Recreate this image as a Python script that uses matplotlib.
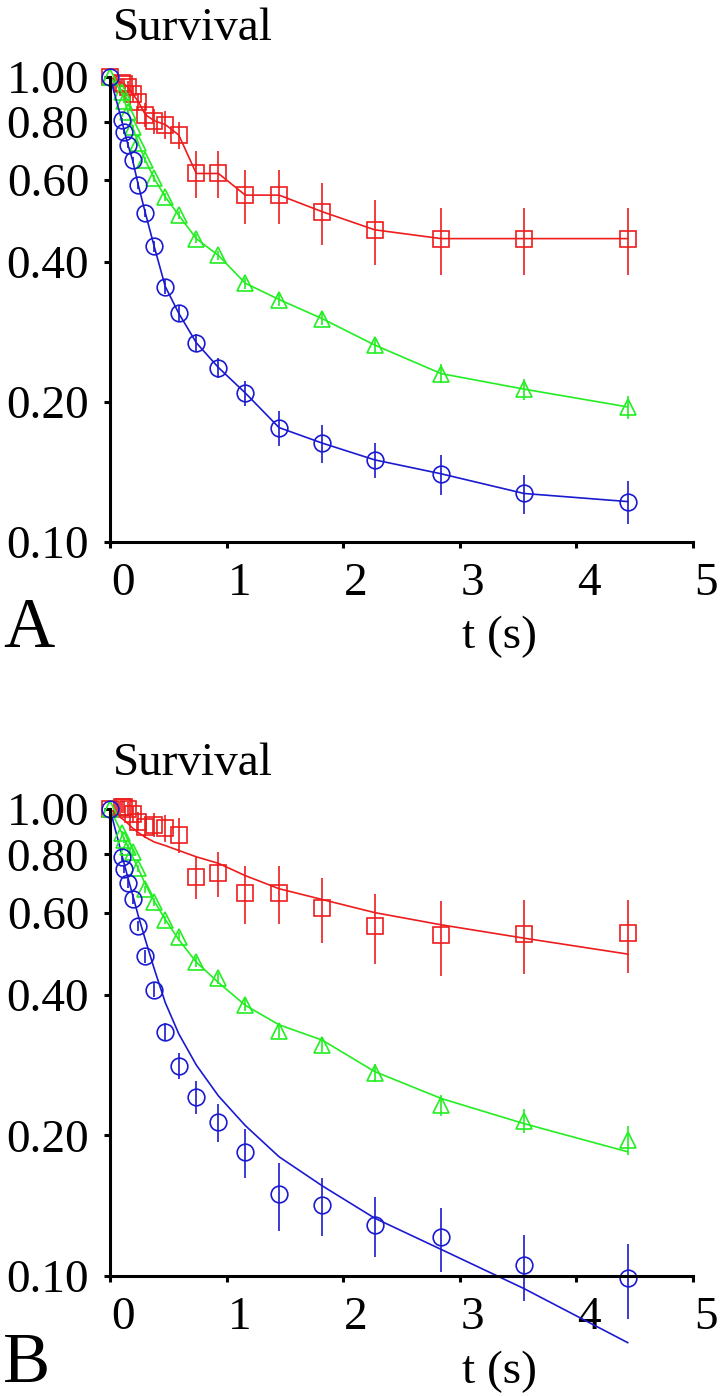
import matplotlib
matplotlib.use("Agg")
import matplotlib.pyplot as plt
import matplotlib.transforms as mtransforms

# time points (s), shared by all series
t = [0, 0.10, 0.124, 0.155, 0.194, 0.243, 0.303, 0.379, 0.474, 0.59,
     0.74, 0.93, 1.16, 1.45, 1.82, 2.27, 2.84, 3.55, 4.44]

# --- panel A: data, joined point to point ---
red_a = [1.0, 0.97, 0.965, 0.95, 0.92, 0.885, 0.83, 0.805, 0.79, 0.75,
         0.62, 0.62, 0.557, 0.557, 0.513, 0.469, 0.449, 0.449, 0.449]
red_a_err = [0, 0.02, 0.025, 0.03, 0.035, 0.04, 0.05, 0.05, 0.055, 0.05,
             0.072, 0.072, 0.075, 0.075, 0.078, 0.075, 0.074, 0.074, 0.074]
green_a = [1.0, 0.93, 0.89, 0.84, 0.78, 0.72, 0.662, 0.605, 0.552, 0.504,
           0.449, 0.413, 0.36, 0.332, 0.302, 0.265, 0.23, 0.213, 0.195]
green_a_err = [0, 0.01, 0.01, 0.01, 0.01, 0.01, 0.01, 0.01, 0.01, 0.01,
               0.01, 0.01, 0.01, 0.01, 0.01, 0.01, 0.011, 0.011, 0.011]
blue_a = [1.0, 0.808, 0.763, 0.713, 0.662, 0.585, 0.51, 0.432, 0.354, 0.31,
          0.268, 0.237, 0.209, 0.176, 0.163, 0.15, 0.14, 0.127, 0.122]
blue_a_err = [0, 0.01, 0.01, 0.01, 0.01, 0.01, 0.01, 0.012, 0.012, 0.012,
              0.012, 0.012, 0.013, 0.015, 0.015, 0.013, 0.014, 0.0125, 0.013]

# --- panel B: data plus fitted curves ---
red_b = [1.0, 1.01, 1.01, 1.0, 0.975, 0.94, 0.915, 0.925, 0.91, 0.88,
         0.716, 0.728, 0.66, 0.66, 0.613, 0.562, 0.537, 0.54, 0.543]
red_b_err = [0, 0.03, 0.03, 0.035, 0.04, 0.045, 0.05, 0.055, 0.06, 0.075,
             0.075, 0.08, 0.094, 0.094, 0.097, 0.096, 0.097, 0.097, 0.097]
red_b_fit = [1.0, 0.955, 0.945, 0.93, 0.91, 0.89, 0.87, 0.85, 0.835, 0.815,
             0.79, 0.765, 0.72, 0.675, 0.64, 0.60, 0.565, 0.529, 0.489]
green_b = [1.0, 0.887, 0.858, 0.83, 0.81, 0.746, 0.673, 0.633, 0.578, 0.533,
           0.471, 0.434, 0.381, 0.335, 0.312, 0.272, 0.232, 0.215, 0.1955]
green_b_err = [0, 0.012, 0.012, 0.012, 0.012, 0.012, 0.012, 0.012, 0.012, 0.012,
               0.012, 0.012, 0.012, 0.011, 0.01, 0.012, 0.012, 0.013, 0.014]
green_b_fit = [1.0, 0.89, 0.86, 0.83, 0.79, 0.745, 0.69, 0.635, 0.58, 0.525,
               0.47, 0.425, 0.38, 0.345, 0.32, 0.274, 0.24, 0.212, 0.1845]
blue_b = [1.0, 0.79, 0.743, 0.693, 0.642, 0.562, 0.484, 0.41, 0.333, 0.282,
          0.242, 0.214, 0.184, 0.15, 0.142, 0.1286, 0.121, 0.1056, 0.099]
blue_b_err = [0, 0.015, 0.015, 0.015, 0.015, 0.015, 0.015, 0.015, 0.015, 0.018,
              0.02, 0.02, 0.022, 0.025, 0.02, 0.019, 0.019, 0.017, 0.018]
blue_b_fit = [1.0, 0.80, 0.76, 0.71, 0.655, 0.59, 0.525, 0.455, 0.385, 0.33,
              0.283, 0.243, 0.21, 0.18, 0.156, 0.133, 0.114, 0.094, 0.072]

y_ticks = [0.10, 0.20, 0.40, 0.60, 0.80, 1.00]
y_labels = ["0.10", "0.20", "0.40", "0.60", "0.80", "1.00"]
x_ticks = [0, 1, 2, 3, 4, 5]

RED = "#ee1c1c"
GREEN = "#22ee22"
BLUE = "#1a1ad0"

plt.rcParams["font.family"] = ["Liberation Serif", "DejaVu Serif"]
plt.rcParams["font.size"] = 34

W, H = 723, 1397
fig = plt.figure(figsize=(W / 100, H / 100), dpi=100)

def px_axes(left, right, top, bottom):
    return fig.add_axes([left / W, 1 - bottom / H, (right - left) / W, (bottom - top) / H])

ax_a = px_axes(110, 693, 77, 541.7)
ax_b = px_axes(110, 693, 809, 1276)

def style(ax):
    ax.set_yscale("log")
    ax.set_xlim(0, 5)
    ax.set_ylim(0.1, 1.0)
    for s in ["top", "right"]:
        ax.spines[s].set_visible(False)
    for s in ["left", "bottom"]:
        ax.spines[s].set_linewidth(2.2)
    ax.set_yticks(y_ticks)
    ax.set_yticklabels(y_labels)
    ax.minorticks_off()
    ax.set_xticks(x_ticks)
    ax.tick_params(axis="y", length=4, width=2.2, pad=11)
    ax.tick_params(axis="x", length=4, width=2.2, pad=11)
    shift = mtransforms.ScaledTranslation(0.13, 0, fig.dpi_scale_trans)
    for lab in ax.get_xticklabels():
        lab.set_transform(lab.get_transform() + shift)

def series(ax, y, err, color, marker, ms, fit=None):
    ls = "-" if fit is None else "none"
    ax.errorbar(t, y, yerr=err, fmt=marker, ls=ls, color=color, ecolor=color,
                elinewidth=1.2, capsize=0, ms=ms, mfc="none", mec=color,
                mew=1.2, lw=1.2, clip_on=False)
    if fit is not None:
        ax.plot(t, fit, color=color, lw=1.2, clip_on=False)

style(ax_a)
series(ax_a, red_a, red_a_err, RED, "s", 12)
series(ax_a, green_a, green_a_err, GREEN, "^", 11)
series(ax_a, blue_a, blue_a_err, BLUE, "o", 12)

style(ax_b)
series(ax_b, red_b, red_b_err, RED, "s", 12, red_b_fit)
series(ax_b, green_b, green_b_err, GREEN, "^", 11, green_b_fit)
series(ax_b, blue_b, blue_b_err, BLUE, "o", 12, blue_b_fit)

def txt(x, y, s, size, ha="left"):
    fig.text(x / W, 1 - y / H, s, fontsize=size, ha=ha, va="baseline")

txt(113, 40, "Survival", 34)
txt(113, 775, "Survival", 34)
txt(499, 648, "t (s)", 34, ha="center")
txt(499, 1383, "t (s)", 34, ha="center")
txt(3, 647, "A", 51)
txt(3, 1382, "B", 51)

fig.savefig("out.png", dpi=100)
